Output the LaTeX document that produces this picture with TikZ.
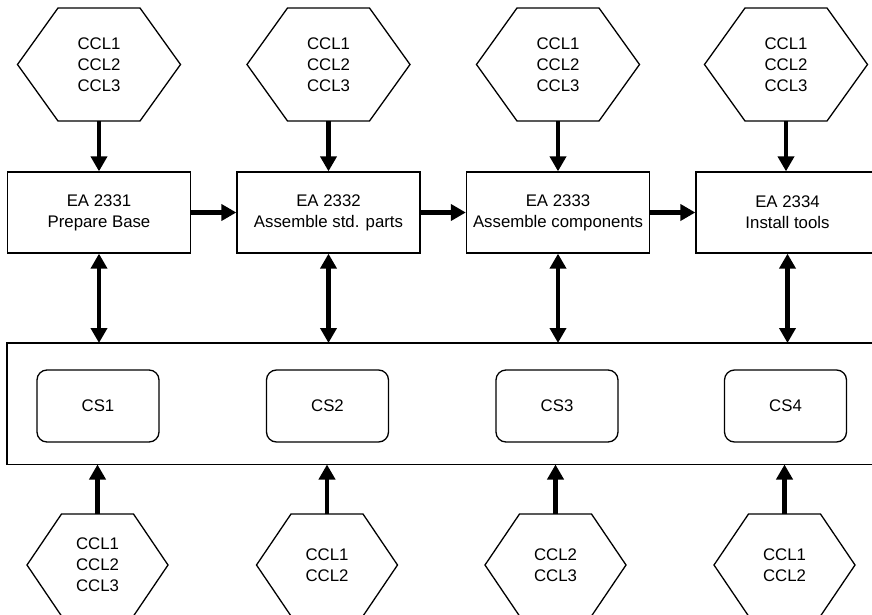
\documentclass[tikz,border=0pt]{standalone}
\usepackage{fontspec}
\setmainfont{Liberation Sans}
\usetikzlibrary{arrows.meta,calc}

\begin{document}
\begin{tikzpicture}[x=1pt,y=-1pt,
  font=\fontsize{16.8}{21}\selectfont,
  ea/.style={draw, line width=1.3pt, minimum width=183pt, minimum height=81pt,
    align=center, inner sep=0pt},
  csbox/.style={draw, line width=1.3pt, rounded corners=10pt, minimum width=122pt,
    minimum height=72pt, inner sep=0pt},
  store/.style={draw, line width=1.3pt, inner sep=0pt, outer sep=0pt},
  tophex/.style={minimum width=163pt, minimum height=113pt, align=center,
    inner sep=0pt, outer sep=0pt},
  bothex/.style={minimum width=141pt, minimum height=102pt, align=center,
    inner sep=0pt, outer sep=0pt},
  hexline/.style={line width=1.3pt, line join=miter},
  tip/.tip={Triangle[length=15pt,width=16pt]},
  flow/.style={line width=4.8pt, -tip},
  link/.style={line width=4.8pt, tip-tip},
]
\useasboundingbox (0,0) rectangle (872,615);
\clip (0,0) rectangle (872,615);

% input hexagons (top row)
\node[tophex] (th1) at (99,64.5)    {CCL1\\CCL2\\CCL3};
\node[tophex] (th2) at (328.5,64.5) {CCL1\\CCL2\\CCL3};
\node[tophex] (th3) at (558,64.5)   {CCL1\\CCL2\\CCL3};
\node[tophex] (th4) at (786,64.5)   {CCL1\\CCL2\\CCL3};
\foreach \h in {th1,th2,th3,th4}
  \draw[hexline] (\h.west) -- ($(\h.north west)+(40.5,0)$) -- ($(\h.north east)+(-40.5,0)$)
    -- (\h.east) -- ($(\h.south east)+(-40.5,0)$) -- ($(\h.south west)+(40.5,0)$) -- cycle;

% assembly steps
\node[ea] (e1) at (99,212.5)    {EA 2331\\Prepare Base};
\node[ea] (e2) at (328.5,212.5) {EA 2332\\Assemble std. parts};
\node[ea] (e3) at (558,212.5)   {EA 2333\\Assemble components};
\node[ea] (e4) at (787.5,212.5) {EA 2334\\Install tools};

% shared store with the CS blocks
\node[store, minimum width=900pt, minimum height=121.5pt, anchor=north west] (cs) at (7,343) {};
\node[csbox] (cs1) at (98,406)    {CS1};
\node[csbox] (cs2) at (327.5,406) {CS2};
\node[csbox] (cs3) at (557,406)   {CS3};
\node[csbox] (cs4) at (785.5,406) {CS4};

% input hexagons (bottom row)
\node[bothex] (bh1) at (97.5,565)  {CCL1\\CCL2\\CCL3};
\node[bothex] (bh2) at (327,565)   {CCL1\\CCL2};
\node[bothex] (bh3) at (555.5,565) {CCL2\\CCL3};
\node[bothex] (bh4) at (784.5,565) {CCL1\\CCL2};
\foreach \h in {bh1,bh2,bh3,bh4}
  \draw[hexline] (\h.west) -- ($(\h.north west)+(34.5,0)$) -- ($(\h.north east)+(-34.5,0)$)
    -- (\h.east) -- ($(\h.south east)+(-34.5,0)$) -- ($(\h.south west)+(34.5,0)$) -- cycle;

% connectors
\foreach \i in {1,2,3,4} {
  \draw[flow] (th\i.south) -- (th\i.south |- e\i.north);
  \draw[link] (e\i.south) -- (e\i.south |- cs.north);
  \draw[flow] (bh\i.north) -- (bh\i.north |- cs.south);
}
\draw[flow] (e1.east) -- (e2.west);
\draw[flow] (e2.east) -- (e3.west);
\draw[flow] (e3.east) -- (e4.west);
\end{tikzpicture}
\end{document}
